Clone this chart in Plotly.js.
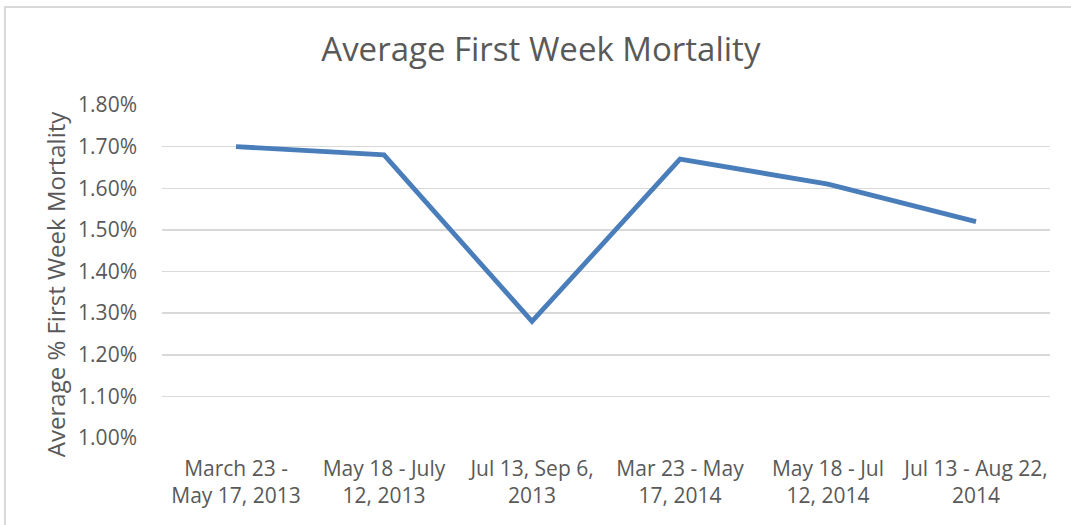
<!DOCTYPE html>
<html>
<head>
<meta charset="utf-8">
<script src="https://cdn.plot.ly/plotly-3.0.1.min.js"></script>
<style>
html,body{margin:0;padding:0;background:#fff;}
#wrap{position:relative;width:1071px;height:525px;overflow:hidden;}
#chart{position:absolute;left:0;top:0;width:1071px;height:525px;}
#frame{position:absolute;left:4px;top:6px;width:1100px;height:600px;border-left:2px solid #d9d9d9;border-top:2px solid #d9d9d9;pointer-events:none;}
</style>
</head>
<body>
<div id="wrap"><div id="chart"></div><div id="frame"></div></div>
<script>
var categories = ["March 23 -<br>May 17, 2013", "May 18 - July<br>12, 2013", "Jul 13, Sep 6,<br>2013", "Mar 23 - May<br>17, 2014", "May 18 - Jul<br>12, 2014", "Jul 13 - Aug 22,<br>2014"];
var mortality = [0.0170, 0.0168, 0.0128, 0.0167, 0.0161, 0.0152];
var yTicks = [0.010, 0.011, 0.012, 0.013, 0.014, 0.015, 0.016, 0.017, 0.018];
var chartTitle = "Average First Week Mortality";
var yTitle = "Average % First Week Mortality";

var font = "Open Sans, sans-serif";
var trace = {
  x: categories,
  y: mortality,
  type: "scatter",
  mode: "lines",
  line: {color: "#4a7ebb", width: 4.8},
  hoverinfo: "skip"
};
var layout = {
  width: 1071, height: 525,
  margin: {l: 162, r: 21, t: 105, b: 87},
  paper_bgcolor: "#ffffff", plot_bgcolor: "#ffffff",
  showlegend: false,
  title: {text: chartTitle, font: {family: font, size: 33, color: "#595959"}, x: 0.505, xanchor: "center", y: 0.905, yanchor: "middle"},
  xaxis: {
    type: "category",
    range: [-0.5, categories.length - 0.5],
    showgrid: false, zeroline: false, showline: false,
    ticks: "", tickfont: {family: font, size: 21, color: "#595959"},
    ticklabelstandoff: 16
  },
  yaxis: {
    range: [0.010, 0.018],
    tickvals: yTicks,
    tickformat: ".2%",
    showgrid: true, gridcolor: "#d9d9d9", gridwidth: 1.5,
    zeroline: false, showline: false, ticks: "",
    ticklabelstandoff: 24,
    tickfont: {family: font, size: 21, color: "#595959"}
  },
  annotations: [{
    text: yTitle, textangle: -90, showarrow: false,
    xref: "paper", yref: "paper", x: -0.1205, y: 0.462,
    xanchor: "center", yanchor: "middle",
    font: {family: font, size: 24, color: "#595959"}
  }]
};
Plotly.newPlot("chart", [trace], layout, {staticPlot: true, displayModeBar: false});
</script>
</body>
</html>
